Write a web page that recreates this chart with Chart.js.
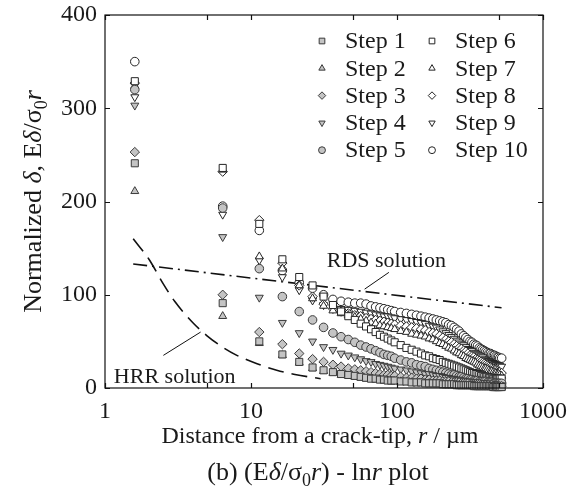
<!DOCTYPE html>
<html>
<head>
<meta charset="utf-8">
<script src="https://cdn.jsdelivr.net/npm/chart.js@4.4.1/dist/chart.umd.min.js"></script>
<style>
    html, body { margin: 0; padding: 0; background: #fff; }
</style>
</head>
<body>
<canvas id="crackChart" width="586" height="490"></canvas>
<script>
// distance from the crack tip, r / um
const distances = [
    1.6, 6.4, 11.4, 16.4, 21.4, 26.4, 31.4, 36.4, 41.4, 46.4,
    51.4, 56.4, 61.4, 66.4, 71.4, 76.4, 81.4, 86.4, 91.4, 96.4,
    106, 116, 126, 136, 146, 156, 166, 176, 186, 196,
    206, 216, 226, 236, 246, 256, 266, 276, 286, 296,
    306, 316, 326, 336, 346, 356, 366, 376, 386, 396,
    406, 416, 426, 436, 446, 456, 466, 476, 486, 496,
    506, 521
];

const step1 = [241, 91, 50, 36, 28, 22, 19, 17, 15, 14, 13, 12, 11, 10, 10, 9, 9, 8, 8, 8,
    7, 7, 6, 6, 6, 5, 5, 5, 5, 5, 4, 4, 4, 4, 4, 3, 3, 3, 3, 3, 3, 3, 3, 2, 2, 2, 2, 2, 2, 2, 2, 2, 2, 2, 2, 1, 1, 1, 1, 1, 1, 1];
const step2 = [211, 77, 48, 35, 27, 21, 18, 16, 14, 13, 12, 11, 10, 10, 9, 9, 8, 8, 7, 7,
    7, 6, 6, 5, 5, 5, 5, 4, 4, 4, 4, 4, 3, 3, 3, 3, 3, 3, 2, 2, 2, 2, 2, 2, 2, 2, 2, 1, 1, 1, 1, 1, 1, 1, 1, 1, 1, 1, 1, 1, 1, 0.5];
const step3 = [253, 100, 60, 47, 37, 31, 28, 25, 23, 21, 20, 19, 18, 17, 16, 15, 14, 14, 13, 13,
    12, 11, 11, 10, 10, 9, 9, 8, 8, 8, 7, 7, 7, 6, 6, 6, 6, 5, 5, 5, 5, 4, 4, 4, 4, 4, 4, 3, 3, 3, 3, 3, 3, 3, 3, 2, 2, 2, 2, 2, 2, 2];
const step4 = [303, 162, 97, 70, 59, 50, 44, 41, 37, 35, 33, 31, 29, 28, 26, 25, 24, 23, 22, 21,
    20, 19, 18, 17, 16, 15, 15, 14, 13, 13, 12, 11, 11, 10, 10, 9, 9, 8, 8, 7, 7, 7, 6, 6, 6, 6, 5, 5, 5, 5, 5, 4, 4, 4, 4, 4, 4, 3, 3, 3, 3, 3];
const step5 = [320, 193, 128, 98, 82, 73, 65, 59, 55, 52, 49, 46, 44, 42, 40, 38, 36, 35, 34, 32,
    30, 28, 27, 25, 24, 23, 21, 20, 19, 18, 17, 16, 15, 14, 14, 13, 12, 12, 11, 10, 10, 9, 9, 8, 8, 8, 7, 7, 7, 7, 7, 6, 6, 6, 6, 5, 5, 5, 5, 5, 5, 5];
const step6 = [329, 236, 176, 138, 119, 110, 98, 89, 82, 77, 73, 69, 66, 63, 60, 57, 55, 53, 51, 49,
    46, 43, 41, 39, 37, 35, 34, 32, 31, 30, 28, 27, 26, 25, 24, 23, 22, 21, 20, 19, 18, 17, 16, 16, 15, 15, 14, 13, 13, 12, 12, 12, 11, 11, 11, 10, 10, 10, 10, 10, 10, 10];
const step7 = [324, 234, 141, 128, 110, 96, 88, 83, 80, 78, 76, 74, 72, 70, 69, 67, 66, 65, 64, 63,
    61, 60, 58, 57, 56, 55, 53, 52, 50, 48, 47, 45, 43, 42, 40, 38, 37, 35, 34, 32, 31, 30, 29, 28, 27, 25, 24, 23, 22, 21, 21, 20, 19, 18, 18, 17, 16, 16, 15, 15, 14, 13];
const step8 = [327, 232, 180, 134, 110, 98, 90, 85, 82, 80, 78, 77, 75, 74, 73, 72, 71, 70, 69, 68,
    67, 66, 65, 64, 63, 62, 60, 59, 58, 56, 54, 52, 50, 49, 47, 45, 43, 42, 40, 39, 37, 35, 34, 33, 31, 30, 29, 28, 27, 26, 25, 24, 23, 22, 21, 20, 19, 19, 18, 17, 17, 16];
const step9 = [312, 186, 137, 119, 105, 94, 89, 86, 85, 84, 83, 82, 81, 80, 79, 78, 77, 77, 76, 75,
    74, 73, 72, 71, 70, 69, 67, 66, 65, 63, 61, 59, 57, 55, 53, 51, 49, 47, 46, 44, 42, 41, 40, 38, 37, 36, 35, 34, 33, 31, 30, 29, 29, 28, 27, 27, 26, 25, 25, 24, 24, 23];
const step10 = [350, 195, 169, 126, 113, 107, 100, 95, 93, 92, 91, 91, 90, 88, 87, 86, 85, 84, 83, 82,
    81, 80, 79, 78, 77, 76, 75, 74, 73, 72, 71, 70, 68, 67, 65, 63, 61, 58, 56, 54, 52, 50, 49, 47, 46, 45, 43, 42, 41, 40, 39, 38, 37, 37, 36, 35, 35, 34, 33, 33, 32, 32];

const stepLabels = ['Step 1', 'Step 2', 'Step 3', 'Step 4', 'Step 5', 'Step 6', 'Step 7', 'Step 8', 'Step 9', 'Step 10'];

const hrrDistances = [1.56, 2, 2.5, 3, 4, 5, 6.5, 8, 11, 15, 20, 30];
const hrrValues = [160, 138, 112, 93, 70, 56, 43, 35, 26, 19, 14.5, 10];
const rdsDistances = [1.56, 520];
const rdsValues = [133, 86];

const xTickValues = [1, 10, 100, 1000];
const xMinorTicks = [5, 50, 500];
const yTickValues = [0, 100, 200, 300, 400];

document.addEventListener('DOMContentLoaded', function() {
    const serif = '"Liberation Serif", "DejaVu Serif", serif';
    const ink = '#1a1a1a';
    const greyFill = '#c4c4c4';
    const greyEdge = '#3a3a3a';
    const openEdge = '#242424';

    const stepSeries = [step1, step2, step3, step4, step5, step6, step7, step8, step9, step10];
    const shapes = ['rect', 'triangle', 'rectRot', 'triangle', 'circle'];
    const rotations = [0, 0, 0, 180, 0];
    const radii = [5, 4.6, 4.7, 4.6, 4.3];

    const toPoints = (xs, ys) => xs.map((x, i) => ({ x: x, y: ys[i] }));

    const datasets = stepSeries.map((values, i) => {
        const k = i % 5;
        const open = i >= 5;
        return {
            label: stepLabels[i],
            data: toPoints(distances, values),
            pointStyle: shapes[k],
            pointRotation: rotations[k],
            pointRadius: radii[k],
            pointBackgroundColor: open ? '#ffffff' : greyFill,
            pointBorderColor: open ? openEdge : greyEdge,
            pointBorderWidth: 1,
            showLine: false,
            clip: false
        };
    });

    datasets.push({
        label: 'RDS solution',
        data: toPoints(rdsDistances, rdsValues),
        showLine: true,
        borderColor: '#111',
        borderWidth: 1.6,
        borderDash: [14, 5, 2, 5],
        pointRadius: 0
    });
    datasets.push({
        label: 'HRR solution',
        data: toPoints(hrrDistances, hrrValues),
        showLine: true,
        borderColor: '#111',
        borderWidth: 1.6,
        borderDash: [16, 8],
        cubicInterpolationMode: 'monotone',
        pointRadius: 0
    });

    function drawMarker(ctx, style, rotation, x, y, r) {
        ctx.beginPath();
        if (style === 'circle') {
            ctx.arc(x, y, r, 0, Math.PI * 2);
        } else if (style === 'rect') {
            const s = r * Math.SQRT1_2;
            ctx.rect(x - s, y - s, 2 * s, 2 * s);
        } else if (style === 'rectRot') {
            ctx.moveTo(x - r, y); ctx.lineTo(x, y - r); ctx.lineTo(x + r, y); ctx.lineTo(x, y + r);
            ctx.closePath();
        } else {
            const dir = rotation ? -1 : 1;
            ctx.moveTo(x, y - dir * r);
            ctx.lineTo(x + r * 0.866, y + dir * r * 0.5);
            ctx.lineTo(x - r * 0.866, y + dir * r * 0.5);
            ctx.closePath();
        }
        ctx.fill();
        ctx.stroke();
    }

    // mixed upright / italic / subscript text, centred on cx, baseline at y
    function drawRich(ctx, parts, cx, y, size) {
        const fontOf = p => (p.it ? 'italic ' : '') + (p.sub ? Math.round(size * 0.68) : size) + 'px ' + serif;
        let total = 0;
        parts.forEach(p => { ctx.font = fontOf(p); p.w = ctx.measureText(p.t).width; total += p.w; });
        let x = cx - total / 2;
        ctx.textAlign = 'left';
        ctx.textBaseline = 'alphabetic';
        parts.forEach(p => {
            ctx.font = fontOf(p);
            ctx.fillText(p.t, x, y + (p.sub ? size * 0.24 : 0));
            x += p.w;
        });
    }

    const paperDecor = {
        id: 'paperDecor',
        afterDraw(chart) {
            const ctx = chart.ctx;
            const area = chart.chartArea;
            const xs = chart.scales.x;
            const ys = chart.scales.y;
            ctx.save();

            // frame + inward ticks
            ctx.strokeStyle = '#111';
            ctx.lineWidth = 1.2;
            ctx.strokeRect(area.left, area.top, area.right - area.left, area.bottom - area.top);
            ctx.beginPath();
            xTickValues.concat(xMinorTicks).forEach(v => {
                const px = Math.round(xs.getPixelForValue(v)) + 0.5;
                ctx.moveTo(px, area.bottom); ctx.lineTo(px, area.bottom - 5);
                ctx.moveTo(px, area.top); ctx.lineTo(px, area.top + 5);
            });
            yTickValues.forEach(v => {
                const py = Math.round(ys.getPixelForValue(v)) + 0.5;
                ctx.moveTo(area.left, py); ctx.lineTo(area.left + 5, py);
                ctx.moveTo(area.right, py); ctx.lineTo(area.right - 5, py);
            });
            ctx.stroke();

            // annotations
            ctx.fillStyle = ink;
            ctx.font = '22px ' + serif;
            ctx.textAlign = 'left';
            ctx.textBaseline = 'alphabetic';
            ctx.fillText('RDS solution', xs.getPixelForValue(33), ys.getPixelForValue(130));
            ctx.fillText('HRR solution', xs.getPixelForValue(1.15), ys.getPixelForValue(5));
            ctx.lineWidth = 1;
            ctx.beginPath();
            ctx.moveTo(xs.getPixelForValue(88), ys.getPixelForValue(124));
            ctx.lineTo(xs.getPixelForValue(60), ys.getPixelForValue(106));
            ctx.moveTo(xs.getPixelForValue(2.51), ys.getPixelForValue(35));
            ctx.lineTo(xs.getPixelForValue(4.52), ys.getPixelForValue(60));
            ctx.stroke();

            // legend, two columns inside the plot
            ctx.font = '24px ' + serif;
            ctx.textBaseline = 'middle';
            stepLabels.forEach((label, i) => {
                const col = Math.floor(i / 5);
                const row = i % 5;
                const k = i % 5;
                const mx = area.left + 217 + col * 110;
                const my = area.top + 26 + row * 27.3;
                ctx.fillStyle = col ? '#ffffff' : greyFill;
                ctx.strokeStyle = col ? openEdge : greyEdge;
                ctx.lineWidth = 1;
                drawMarker(ctx, shapes[k], rotations[k], mx, my, radii[k] * 0.8);
                ctx.fillStyle = ink;
                ctx.fillText(label, mx + 23, my + 1);
            });

            // axis titles and caption
            ctx.fillStyle = ink;
            const cx = (area.left + area.right) / 2 - 4;
            drawRich(ctx, [
                { t: 'Distance from a crack-tip, ' }, { t: 'r', it: true }, { t: ' / \u00b5m' }
            ], cx, 443, 24);
            drawRich(ctx, [
                { t: '(b) (E' }, { t: '\u03b4', it: true }, { t: '/\u03c3' }, { t: '0', sub: true },
                { t: 'r', it: true }, { t: ') - ln' }, { t: 'r', it: true }, { t: ' plot' }
            ], cx - 2, 480, 26);

            ctx.save();
            ctx.translate(41, (area.top + area.bottom) / 2);
            ctx.rotate(-Math.PI / 2);
            drawRich(ctx, [
                { t: 'Normalized ' }, { t: '\u03b4', it: true }, { t: ', E' }, { t: '\u03b4', it: true },
                { t: '/\u03c3' }, { t: '0', sub: true }, { t: 'r', it: true }
            ], 0, 0, 26);
            ctx.restore();

            ctx.restore();
        }
    };

    const tickFont = { family: serif, size: 24 };

    new Chart(document.getElementById('crackChart'), {
        type: 'scatter',
        data: { datasets: datasets },
        options: {
            responsive: false,
            animation: false,
            events: [],
            layout: { padding: { left: 0, top: 15, right: 43, bottom: 0 } },
            scales: {
                x: {
                    type: 'logarithmic',
                    min: 1,
                    max: 1000,
                    afterBuildTicks: scale => { scale.ticks = xTickValues.map(v => ({ value: v })); },
                    afterFit: scale => { scale.height = 102; scale.paddingLeft = 0; scale.paddingRight = 0; },
                    grid: { display: false, drawTicks: false },
                    border: { display: false },
                    ticks: { font: tickFont, color: ink, padding: 9, maxRotation: 0, autoSkip: false, callback: v => String(v) }
                },
                y: {
                    min: 0,
                    max: 400,
                    afterBuildTicks: scale => { scale.ticks = yTickValues.map(v => ({ value: v })); },
                    afterFit: scale => { scale.width = 105; scale.paddingTop = 0; scale.paddingBottom = 0; },
                    grid: { display: false, drawTicks: false },
                    border: { display: false },
                    ticks: { font: tickFont, color: ink, padding: 8, callback: v => String(v) }
                }
            },
            plugins: {
                legend: { display: false },
                tooltip: { enabled: false }
            }
        },
        plugins: [paperDecor]
    });
});
</script>
</body>
</html>
